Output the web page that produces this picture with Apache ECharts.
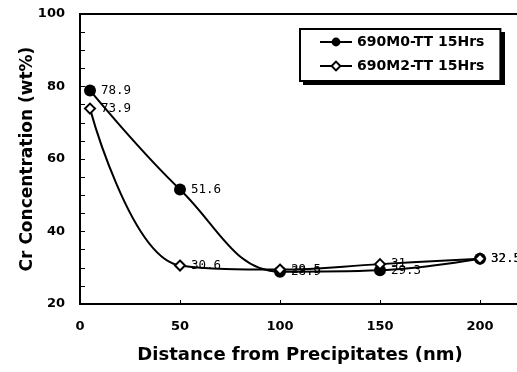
<!DOCTYPE html>
<html><head><meta charset="utf-8">
<script src="https://cdn.jsdelivr.net/npm/echarts@6/dist/echarts.min.js"></script>
<style>html,body{margin:0;padding:0;background:#fff}#c{width:517px;height:372px}</style>
</head><body><div id="c"></div>
<script>
const xValues = [5, 50, 100, 150, 200];
const seriesNames = ['690M0-TT 15Hrs', '690M2-TT 15Hrs'];
const m0Values = [78.9, 51.6, 28.9, 29.3, 32.5];
const m2Values = [73.9, 30.6, 29.5, 31, 32.5];
const xTicks = [0, 50, 100, 150, 200];
const yTicks = [20, 40, 60, 80, 100];

const chart = echarts.init(document.getElementById('c'), null, {renderer: 'canvas'});
const lbl = {show: true, position: 'right', distance: 5, color: '#000', fontFamily: 'DejaVu Sans Mono', fontSize: 12.5};
const boldFont = 'DejaVu Sans';
chart.setOption({
  animation: false,
  backgroundColor: '#fff',
  grid: {left: 80, top: 14, right: -3, bottom: 68, outerBoundsMode: 'none', containLabel: false,
    show: true, borderColor: '#000', borderWidth: 2, backgroundColor: 'transparent'},
  graphic: [{
    type: 'rect', left: 303, top: 32, z: 1,
    shape: {width: 202, height: 53},
    style: {fill: '#000'}
  }],
  legend: {
    orient: 'vertical', left: 300, top: 29, itemWidth: 32, itemHeight: 11, itemGap: 10,
    padding: [6, 16, 8, 19], z: 5,
    borderColor: '#000', borderWidth: 2, backgroundColor: '#fff',
    textStyle: {fontFamily: boldFont, fontWeight: 'bold', fontSize: 14, color: '#000'},
    data: seriesNames
  },
  xAxis: {
    type: 'value', min: 0, max: 220, interval: 50,
    name: 'Distance from Precipitates (nm)', nameLocation: 'middle', nameGap: 42, nameMoveOverlap: false,
    nameTextStyle: {fontFamily: boldFont, fontWeight: 'bold', fontSize: 18, color: '#000'},
    axisLine: {lineStyle: {color: '#000', width: 2}},
    axisTick: {inside: true, length: 4, lineStyle: {color: '#000'}},
    splitLine: {show: false},
    axisLabel: {margin: 16, fontFamily: boldFont, fontWeight: 'bold', fontSize: 13, color: '#000',
      formatter: v => xTicks.includes(v) ? String(v) : ''}
  },
  yAxis: {
    type: 'value', min: 20, max: 100, interval: 20,
    name: 'Cr Concentration (wt%)', nameLocation: 'middle', nameGap: 44, nameMoveOverlap: false,
    nameTextStyle: {fontFamily: boldFont, fontWeight: 'bold', fontSize: 17, color: '#000'},
    axisLine: {show: true, lineStyle: {color: '#000', width: 2}},
    axisTick: {inside: true, length: 5, lineStyle: {color: '#000'}},
    minorTick: {show: true, splitNumber: 4, length: 5, lineStyle: {color: '#000'}},
    splitLine: {show: false},
    axisLabel: {margin: 15, fontFamily: boldFont, fontWeight: 'bold', fontSize: 13, color: '#000',
      formatter: v => yTicks.includes(v) ? String(v) : ''}
  },
  series: [
    {
      name: seriesNames[0], type: 'line', smooth: 0.4,
      data: xValues.map((x, i) => [x, m0Values[i]]),
      symbol: 'circle', symbolSize: 12,
      itemStyle: {color: '#000'},
      lineStyle: {color: '#000', width: 2},
      label: Object.assign({}, lbl, {formatter: p => String(p.value[1].toFixed(1))})
    },
    {
      name: seriesNames[1], type: 'line', smooth: 0.4,
      data: xValues.map((x, i) => [x, m2Values[i]]),
      symbol: 'diamond', symbolSize: 10, showAllSymbol: true,
      itemStyle: {color: '#fff', borderColor: '#000', borderWidth: 2},
      lineStyle: {color: '#000', width: 2},
      label: Object.assign({}, lbl, {formatter: p => {const v = p.value[1]; return Number.isInteger(v) ? String(v) : v.toFixed(1);}})
    }
  ]
});
</script></body></html>
